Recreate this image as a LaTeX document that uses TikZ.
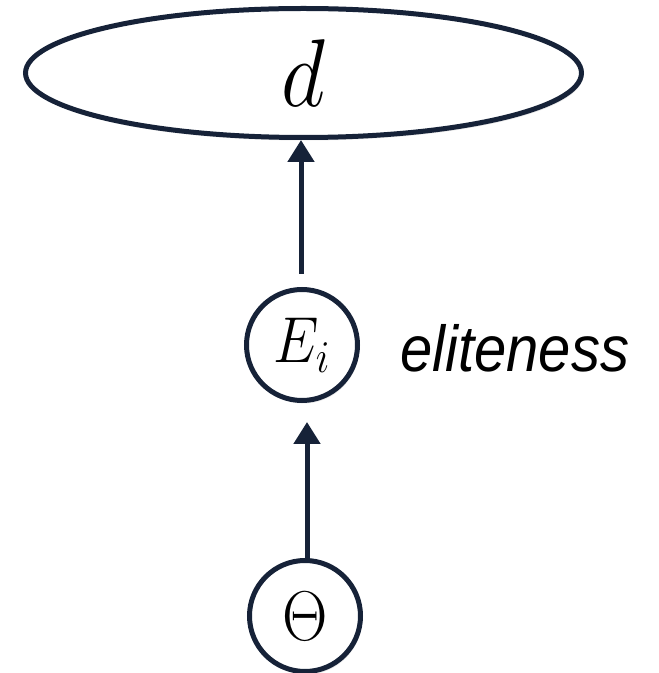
\RequirePackage{fix-cm}
\documentclass[tikz,border=0pt]{standalone}
\usepackage{fontspec}
\newfontfamily\labelfont{Liberation Sans}
\usetikzlibrary{arrows.meta,shapes.geometric,shadows}
\definecolor{navy}{RGB}{22,34,56}
\tikzset{
  edgeline/.style={draw=navy, line width=5pt, fill=white,
    drop shadow={opacity=0.18, shadow xshift=1.5pt, shadow yshift=-3pt}},
  varnode/.style={edgeline, circle, minimum size=111pt, inner sep=0pt},
  bigoval/.style={edgeline, ellipse, minimum width=556pt, minimum height=129pt, inner sep=0pt},
  arr/.style={draw=navy, line width=5pt, -{Triangle[width=26pt,length=22pt]}}
}
\begin{document}
\begin{tikzpicture}[x=1pt,y=1pt]
\useasboundingbox (0,0) rectangle (659,673);
\node[bigoval] (d) at (303.5,600) {\fontsize{86}{86}\selectfont\scalebox{1}[1.12]{$d$}};
\node[varnode] (Ei) at (302,328) {\fontsize{58}{58}\selectfont\scalebox{1}[1.12]{$E_i$}};
\node[varnode] (Th) at (305,57) {\fontsize{63}{63}\selectfont\scalebox{1}[1.12]{$\Theta$}};
\node[anchor=base west, inner sep=0pt] (el) at (400,301) {\labelfont\itshape\fontsize{58}{58}\selectfont\scalebox{1}[1.12]{eliteness}};
\draw[arr, shorten <=13pt] ([xshift=-1pt]Ei.north) -- ([xshift=-1pt]Ei.north |- d.south);
\draw[arr, shorten >=19pt] ([xshift=2pt]Th.north) -- ([xshift=2pt]Th.north |- Ei.south);
\end{tikzpicture}
\end{document}
